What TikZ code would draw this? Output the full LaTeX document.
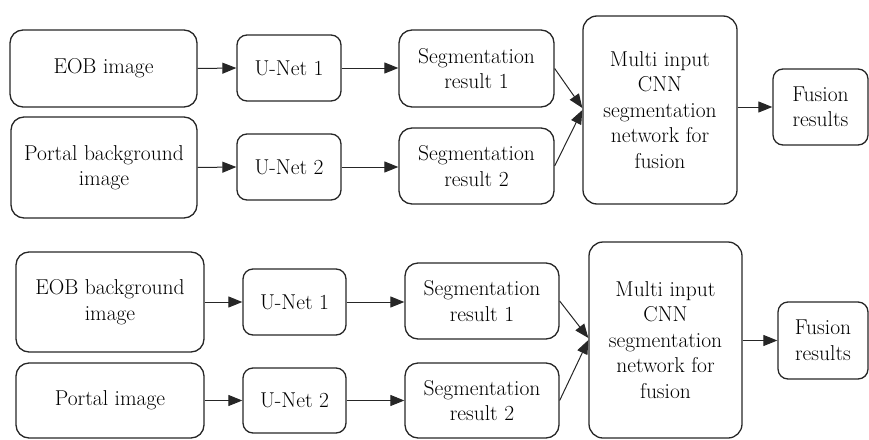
\documentclass[tikz,border=0pt]{standalone}
\usepackage{fontspec}
\usetikzlibrary{arrows.meta,calc}
\begin{document}
\begin{tikzpicture}[x=1pt,y=-1pt,
  box/.style={draw=black!85,line width=1.3pt,rounded corners=#1,inner sep=0pt,align=center,
    font=\fontsize{21.5}{25.5}\selectfont},
  box/.default=13pt,
  arr/.style={-{Triangle[length=14pt,width=11pt]},line width=1pt,draw=black!85}]
\useasboundingbox (0,0) rectangle (869,439);
% top diagram
\node[box,minimum width=187pt,minimum height=77pt] (eob1) at (103.5,68.5) {EOB image};
\node[box,minimum width=186pt,minimum height=101pt] (pb1) at (104,167.5) {Portal background\\image};
\node[box=10pt,minimum width=104pt,minimum height=66pt] (un1) at (289,68) {U-Net 1};
\node[box=10pt,minimum width=104pt,minimum height=66pt] (un2) at (289,167) {U-Net 2};
\node[box,minimum width=155pt,minimum height=77pt] (sr1) at (476.5,68.5) {Segmentation\\result 1};
\node[box,minimum width=155pt,minimum height=76pt] (sr2) at (476.5,166) {Segmentation\\result 2};
\node[box=14pt,minimum width=154pt,minimum height=188pt] (mc1) at (660,110) {Multi input\\CNN\\segmentation\\network for\\fusion};
\node[box=10pt,minimum width=95pt,minimum height=76pt] (fr1) at (820.5,107) {Fusion\\results};
\draw[arr] (eob1.east) -- (un1.west);
\draw[arr] (pb1.east) -- (un2.west);
\draw[arr] (un1.east) -- (un1.east -| sr1.west);
\draw[arr] (un2.east) -- (un2.east -| sr2.west);
\draw[arr] (sr1.east) -- ($(mc1.west)+(0,-2)$);
\draw[arr] (sr2.east) -- ($(mc1.west)+(0,0)$);
\draw[arr] (mc1.east |- fr1.west) -- (fr1.west);
% bottom diagram
\node[box,minimum width=188pt,minimum height=100pt] (eob2) at (110,302) {EOB background\\image};
\node[box,minimum width=188pt,minimum height=75pt] (pi2) at (110,400.5) {Portal image};
\node[box=10pt,minimum width=103pt,minimum height=66pt] (un3) at (294.5,302) {U-Net 1};
\node[box=10pt,minimum width=103pt,minimum height=65pt] (un4) at (294.5,400.5) {U-Net 2};
\node[box,minimum width=154pt,minimum height=76pt] (sr3) at (482,301) {Segmentation\\result 1};
\node[box,minimum width=154pt,minimum height=75pt] (sr4) at (482,400.5) {Segmentation\\result 2};
\node[box=14pt,minimum width=153pt,minimum height=196pt] (mc2) at (665.5,340) {Multi input\\CNN\\segmentation\\network for\\fusion};
\node[box=10pt,minimum width=90pt,minimum height=77pt] (fr2) at (823,340.5) {Fusion\\results};
\draw[arr] (eob2.east) -- (un3.west);
\draw[arr] (pi2.east) -- (un4.west);
\draw[arr] (un3.east) -- (un3.east -| sr3.west);
\draw[arr] (un4.east) -- (un4.east -| sr4.west);
\draw[arr] (sr3.east) -- ($(mc2.west)+(0,-2)$);
\draw[arr] (sr4.east) -- ($(mc2.west)+(0,0)$);
\draw[arr] (mc2.east |- fr2.west) -- (fr2.west);
\end{tikzpicture}
\end{document}
